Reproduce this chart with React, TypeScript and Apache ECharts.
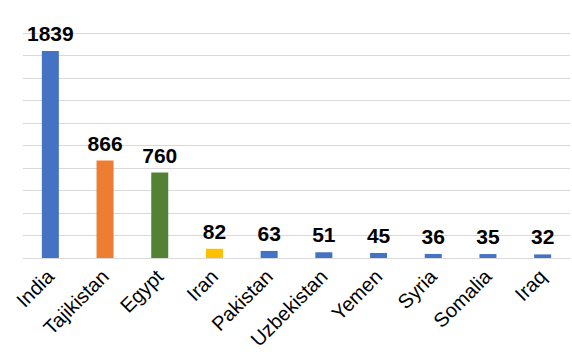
import React, { useEffect, useRef } from "react";
import * as echarts from "echarts";

const categories = ["India", "Tajikistan", "Egypt", "Iran", "Pakistan", "Uzbekistan", "Yemen", "Syria", "Somalia", "Iraq"];
const values = [1839, 866, 760, 82, 63, 51, 45, 36, 35, 32];
const colors = ["#4472C4", "#ED7D31", "#548235", "#FFC000", "#4472C4", "#4472C4", "#4472C4", "#4472C4", "#4472C4", "#4472C4"];

export default function App() {
  const ref = useRef<HTMLDivElement>(null);
  useEffect(() => {
    document.body.style.margin = "0";
    const chart = echarts.init(ref.current!, null, { renderer: "svg" });
    chart.setOption({
      animation: false,
      grid: { left: 23, right: 2, top: 33, bottom: 102, containLabel: false },
      xAxis: {
        type: "category",
        data: categories,
        axisLine: { lineStyle: { color: "#d9d9d9", width: 1 } },
        axisTick: { show: false },
        axisLabel: {
          rotate: 45,
          interval: 0,
          margin: 15,
          fontFamily: "Liberation Sans, Arial, sans-serif",
          fontSize: 20,
          color: "#000",
        },
      },
      yAxis: {
        type: "value",
        min: 0,
        max: 2000,
        interval: 200,
        axisLabel: { show: false },
        axisLine: { show: false },
        axisTick: { show: false },
        splitLine: { lineStyle: { color: "#d9d9d9", width: 1 } },
      },
      series: [
        {
          type: "bar",
          data: values.map((v, i) => ({ value: v, itemStyle: { color: colors[i] } })),
          barWidth: 17,
          label: {
            show: true,
            position: "top",
            distance: 7,
            fontFamily: "Liberation Sans, Arial, sans-serif",
            fontSize: 21,
            fontWeight: "bold",
            color: "#000",
          },
        },
      ],
    });
    return () => chart.dispose();
  }, []);
  return <div ref={ref} style={{ width: 572, height: 360 }} />;
}
